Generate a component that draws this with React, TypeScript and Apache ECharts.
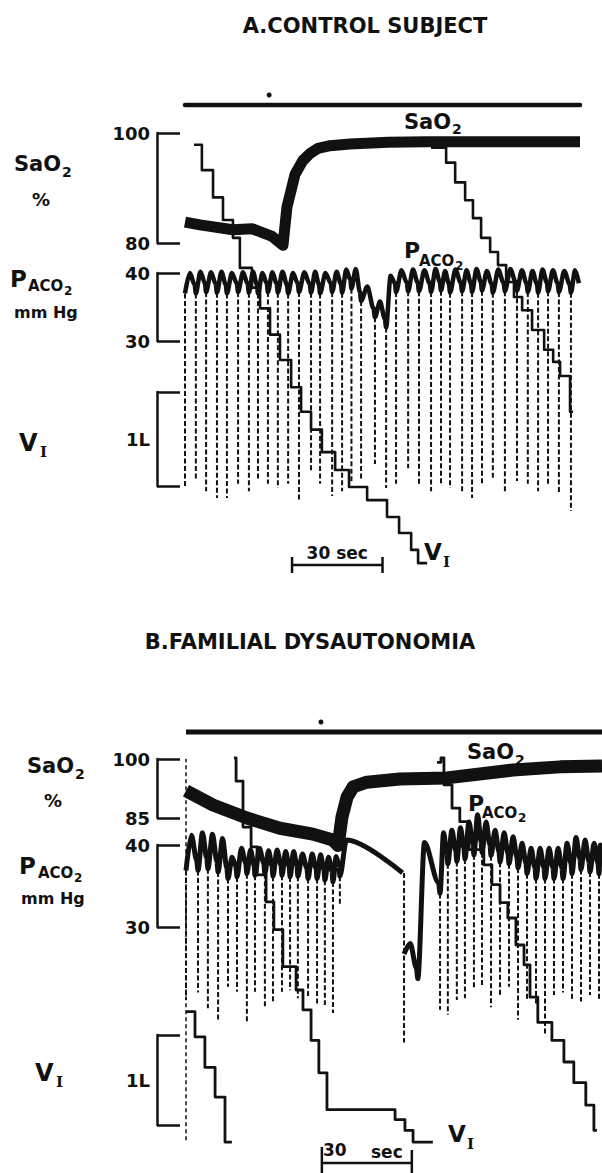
import React, { useEffect, useRef } from "react";
import * as echarts from "echarts";

const INK = "#111";
const FONT = '"DejaVu Sans", sans-serif';
const SERIF = '"DejaVu Serif", serif';

// ---------------- Panel A: control subject ----------------
const aTimeMax = 131; // seconds shown
const aEvent = [0, 131];
const aEventMark = 27.9;
const aScaleBar = [35.5, 30]; // start (s), length (s)

// SaO2 (%)
const aSaoT = [0, 5.0, 15.9, 22.2, 28.9, 32.5, 33.8, 36.5, 39.1, 41.5, 44.1, 48.1, 54.7, 67.3, 80.3, 131];
const aSaoV = [83.8, 83.3, 82.4, 82.6, 81.2, 79.6, 86.5, 92.5, 95.0, 96.3, 97.2, 97.7, 98.0, 98.3, 98.4, 98.4];

// PACO2 (mmHg): one entry per breath
const aBreathT = [0, 3.6, 7.0, 10.6, 13.9, 17.6, 21.2, 24.2, 27.5, 30.8, 34.2, 37.8, 41.8, 44.8, 48.8, 52.1, 55.2, 58.4, 63.0, 66.7, 70.0, 74.0, 77.6, 81.6, 84.9, 87.9, 91.9, 95.2, 98.5, 102.1, 106.1, 110.1, 113.7, 117.1, 120.4, 124.0, 128.0];
const aPeak = [40.0, 40.2, 40.1, 40.2, 40.0, 40.1, 40.2, 40.0, 40.1, 40.2, 40.0, 40.1, 40.2, 40.0, 40.2, 40.5, 40.6, 38.0, 35.8, 39.6, 40.4, 40.5, 40.4, 40.6, 40.3, 40.5, 40.4, 40.6, 40.3, 40.5, 40.6, 40.4, 40.3, 40.5, 40.4, 40.3, 40.4];
const aTail = [38.3, 38.5, 38.4, 38.3, 38.5, 38.4, 38.3, 38.5, 38.4, 38.3, 38.5, 38.4, 38.3, 38.5, 38.4, 39.0, 37.2, 34.8, 33.3, 38.5, 38.6, 38.6, 38.5, 38.7, 38.4, 38.6, 38.5, 38.7, 38.4, 38.6, 38.7, 38.5, 38.4, 38.6, 38.5, 38.4, 38.5];
const aFloor = [8.4, 9.4, 7.9, 6.9, 6.9, 9.0, 7.9, 9.4, 9.0, 8.4, 9.0, 6.4, 10.9, 9.0, 7.2, 7.9, 9.0, 9.4, 11.9, 8.4, 9.0, 11.3, 9.0, 7.9, 9.0, 8.4, 7.9, 6.9, 9.0, 9.9, 7.9, 9.4, 9.0, 7.9, 9.0, 7.5, 5.0];

// VI spirometer volume (L): step times and level after each step
const aVi1T = [3.0, 5.6, 9.3, 12.6, 15.9, 18.2, 22.2, 24.9, 28.2, 31.5, 35.2, 38.5, 41.8, 45.4, 49.8, 54.4, 60.4, 67.0, 71.0, 75.0, 77.3];
const aVi1V = [5.63, 5.36, 5.07, 4.83, 4.64, 4.32, 4.11, 3.89, 3.61, 3.34, 3.05, 2.79, 2.60, 2.36, 2.17, 1.99, 1.85, 1.67, 1.50, 1.32, 1.18];
const aVi1End = 80.3;
const aVi2T = [81.6, 86.6, 89.6, 92.9, 95.5, 98.2, 101.2, 103.8, 106.5, 109.1, 111.8, 115.1, 119.1, 122.1, 124.4, 127.7];
const aVi2V = [5.60, 5.44, 5.23, 5.04, 4.85, 4.64, 4.49, 4.35, 4.17, 4.01, 3.87, 3.66, 3.45, 3.32, 3.17, 2.79];
const aVi2End = 128.7;

// ---------------- Panel B: familial dysautonomia ----------------
const bTimeMax = 138.7;
const bEvent = [0, 138.7];
const bEventMark = 45.0;
const bScaleBar = [45.3, 30];

const bSaoT = [0, 9.0, 20.3, 31.3, 42.3, 49.0, 50.7, 52.0, 53.7, 55.7, 60.3, 71.3, 87.0, 109.0, 124.7, 138.7];
const bSaoV = [91.9, 88.3, 85.0, 82.4, 80.9, 79.4, 78.0, 85.2, 90.3, 92.9, 94.1, 94.9, 95.2, 97.2, 98.0, 98.2];

const bBreathT = [0, 4.0, 7.3, 10.7, 14.0, 17.0, 20.3, 23.0, 26.3, 29.0, 32.0, 34.7, 37.3, 40.7, 43.7, 46.3, 49.0, 51.3, 72.7, 77.3, 84.7, 87.3, 90.3, 93.0, 96.0, 98.7, 101.7, 104.7, 107.7, 110.7, 113.7, 116.7, 119.7, 122.7, 125.7, 128.7, 131.7, 134.7, 137.7];
const bPeak = [41.2, 41.5, 41.3, 40.8, 38.5, 39.6, 39.4, 39.6, 39.3, 39.4, 39.2, 39.2, 38.9, 38.9, 38.8, 38.5, 38.6, 40.6, 28.0, 40.3, 41.5, 41.8, 42.1, 42.8, 43.7, 42.8, 41.8, 41.5, 41.0, 40.2, 39.6, 39.6, 39.6, 39.6, 40.2, 40.9, 40.6, 40.2, 40.0];
const bTail = [38.2, 38.4, 38.0, 37.2, 37.4, 37.8, 37.6, 37.8, 37.5, 37.6, 37.4, 37.5, 37.2, 37.2, 37.0, 36.8, 37.5, 36.6, 25.0, 35.4, 39.0, 39.3, 39.6, 40.1, 40.4, 40.0, 39.2, 39.0, 38.5, 37.8, 37.2, 37.2, 37.2, 37.2, 37.8, 38.3, 38.0, 37.8, 37.5];
const bFloor = [21.1, 22.0, 20.1, 18.7, 22.7, 22.1, 18.4, 22.1, 20.1, 20.9, 22.1, 22.3, 21.3, 21.5, 20.5, 20.5, 19.5, 32.7, 15.9, 24.4, 19.9, 19.3, 21.1, 21.3, 22.6, 22.9, 20.2, 21.7, 22.7, 18.7, 21.1, 20.5, 16.8, 21.7, 22.0, 21.1, 20.9, 21.7, 21.1];

const bVi1T = [0, 3.0, 6.3, 9.7, 13.0];
const bVi1V = [3.26, 2.98, 2.64, 2.31, 1.81];
const bVi1End = 15.3;
const bVi2T = [16.0, 16.7, 19.0, 21.7, 23.7, 26.7, 29.3, 32.3, 36.7, 39.0, 41.7, 44.3, 47.0, 69.7, 73.0, 75.7];
const bVi2V = [6.08, 5.82, 5.31, 5.09, 4.78, 4.48, 4.17, 3.76, 3.50, 3.28, 2.94, 2.58, 2.17, 2.06, 1.94, 1.81];
const bVi2End = 82.3;
const bVi3T = [83.7, 85.0, 86.0, 88.7, 91.3, 94.3, 99.3, 102.0, 104.7, 107.3, 110.0, 112.7, 114.7, 117.3, 122.0, 126.0, 129.3, 133.3, 136.0];
const bVi3V = [6.03, 6.08, 5.78, 5.52, 5.37, 5.06, 4.89, 4.67, 4.47, 4.30, 4.00, 3.78, 3.42, 3.14, 2.94, 2.70, 2.47, 2.22, 1.94];
const bVi3End = 137.0;
const bResetT = 0;
const bResetV = [1.83, 6.07];

// ---------------- builders ----------------
function stairs(times: number[], levels: number[], end: number) {
  const pts: number[][] = [[times[0], levels[0]]];
  for (let i = 1; i < times.length; i++) {
    pts.push([times[i], levels[i - 1]]);
    pts.push([times[i], levels[i]]);
  }
  pts.push([end, levels[levels.length - 1]]);
  return pts;
}

function capnogram(times: number[], peaks: number[], tails: number[], floors: number[], end: number) {
  const line: any[] = [];
  const spikes: number[][] = [];
  for (let i = 0; i < times.length; i++) {
    const t0 = times[i];
    const t1 = i + 1 < times.length ? times[i + 1] : end;
    const d = t1 - t0;
    const prev = i > 0 ? tails[i - 1] : tails[i];
    const notch = Math.min(prev, peaks[i]) - 1.3;
    let top = notch;
    if (prev - notch > 5) {
      // pen falls fast: leave the fall to the dashed stroke
      line.push([t0, "-"]);
      top = prev;
    }
    line.push([t0, notch]);
    line.push([t0 + Math.min(0.45 * d, 2.2), peaks[i]]);
    line.push([t1 - Math.min(0.12 * d, 0.5), tails[i]]);
    spikes.push([t0, top, floors[i]]);
  }
  return { line, spikes };
}

function zip(t: number[], v: number[]) {
  return t.map((x, i) => [x, v[i]]);
}

function traceLine(idx: number, data: any[], width: number, extra: any = {}) {
  return {
    type: "line",
    xAxisIndex: idx,
    yAxisIndex: idx,
    data,
    symbol: "none",
    showSymbol: false,
    clip: false,
    silent: true,
    connectNulls: false,
    lineStyle: { color: INK, width, cap: "butt", join: "round", ...(extra.lineStyle || {}) },
    smooth: extra.smooth || false,
    smoothMonotone: extra.smooth ? "x" : undefined,
    z: extra.z || 2,
  };
}

function spikeSeries(idx: number, data: number[][]) {
  return {
    type: "custom",
    xAxisIndex: idx,
    yAxisIndex: idx,
    data,
    clip: false,
    silent: true,
    z: 1,
    renderItem: (_p: any, api: any) => {
      const a = api.coord([api.value(0), api.value(1)]);
      const b = api.coord([api.value(0), api.value(2)]);
      return {
        type: "line",
        shape: { x1: a[0], y1: a[1], x2: b[0], y2: b[1] },
        style: { stroke: INK, lineWidth: 2, lineDash: [5, 2.5], fill: null },
      };
    },
  };
}

function bracketAxis(grid: number, offset: number, min: number, max: number, ticks: number[], labels: number[], fmt?: (v: number) => string) {
  const axisLabel: any = {
    show: true,
    customValues: labels,
    margin: 7,
    color: INK,
    fontSize: 18,
    fontWeight: "bold",
    fontFamily: FONT,
  };
  if (fmt) axisLabel.formatter = fmt;
  return {
    type: "value",
    gridIndex: grid,
    min,
    max,
    position: "left",
    offset,
    axisLine: { show: true, onZero: false, lineStyle: { color: INK, width: 2.5 } },
    axisTick: { show: true, inside: true, length: 23, customValues: ticks, lineStyle: { color: INK, width: 2.5 } },
    axisLabel,
    splitLine: { show: false },
  };
}

function txt(x: number, y: number, text: string, size: number, opts: any = {}) {
  return {
    type: "text",
    x,
    y,
    silent: true,
    style: {
      text,
      fill: INK,
      fontSize: size,
      fontWeight: "bold",
      fontFamily: opts.family || FONT,
      align: opts.align || "left",
      verticalAlign: "middle",
    },
  };
}

function hline(x1: number, x2: number, y: number, w: number, cap = "butt") {
  return { type: "line", silent: true, shape: { x1, y1: y, x2, y2: y }, style: { stroke: INK, lineWidth: w, lineCap: cap } };
}
function vline(x: number, y1: number, y2: number, w: number) {
  return { type: "line", silent: true, shape: { x1: x, y1, x2: x, y2 }, style: { stroke: INK, lineWidth: w } };
}

export default function App() {
  const ref = useRef<HTMLDivElement>(null);

  useEffect(() => {
    if (!ref.current) return;
    const chart = echarts.init(ref.current, undefined, { renderer: "svg" });

    const capA = capnogram(aBreathT, aPeak, aTail, aFloor, aTimeMax);
    const capB = capnogram(bBreathT, bPeak, bTail, bFloor, bTimeMax);

    const grids = [
      { left: 185, width: 395, top: 133, height: 110 },
      { left: 185, width: 395, top: 273, height: 68 },
      { left: 185, width: 395, top: 392, height: 94 },
      { left: 186, width: 416, top: 759, height: 59 },
      { left: 186, width: 416, top: 845, height: 82 },
      { left: 186, width: 416, top: 1035, height: 90 },
    ];
    const xAxes = grids.map((_, i) => ({
      type: "value",
      gridIndex: i,
      min: 0,
      max: i < 3 ? aTimeMax : bTimeMax,
      show: false,
    }));
    const oneL = () => "1L";
    const yAxes = [
      bracketAxis(0, 28, 80, 100, [80, 100], [80, 100]),
      bracketAxis(1, 28, 30, 40, [30, 40], [30, 40]),
      bracketAxis(2, 28, 2, 3, [2, 3], [2.5], oneL),
      bracketAxis(3, 29, 85, 100, [85, 100], [85, 100]),
      bracketAxis(4, 29, 30, 40, [30, 40], [30, 40]),
      bracketAxis(5, 29, 2, 3, [2, 3], [2.5], oneL),
    ];

    const series: any[] = [
      traceLine(0, zip(aSaoT, aSaoV), 11, { z: 1 }),
      spikeSeries(1, capA.spikes),
      traceLine(1, capA.line, 4.5, { smooth: 0.3 }),
      traceLine(2, stairs(aVi1T, aVi1V, aVi1End), 2.6, { z: 3 }),
      traceLine(2, stairs(aVi2T, aVi2V, aVi2End), 2.6, { z: 3 }),
      traceLine(3, zip(bSaoT, bSaoV), 13, { z: 1 }),
      spikeSeries(4, capB.spikes),
      traceLine(4, capB.line, 5, { smooth: 0.3 }),
      traceLine(5, stairs(bVi1T, bVi1V, bVi1End), 2.8, { z: 3 }),
      traceLine(5, stairs(bVi2T, bVi2V, bVi2End), 2.8, { z: 3 }),
      traceLine(5, stairs(bVi3T, bVi3V, bVi3End), 2.8, { z: 3 }),
      traceLine(5, [[bResetT, bResetV[0]], [bResetT, bResetV[1]]], 1.5, { lineStyle: { type: [4, 3] } }),
    ];

    chart.setOption({
      animation: false,
      backgroundColor: "#fff",
      grid: grids,
      xAxis: xAxes,
      yAxis: yAxes,
      series,
    });

    const px = (axis: number, v: number) => chart.convertToPixel({ xAxisIndex: axis }, v) as number;

    const aBar0 = px(0, aEvent[0]);
    const aBar1 = px(0, aEvent[1]);
    const bBar0 = px(3, bEvent[0]);
    const bBar1 = px(3, bEvent[1]);
    const aS0 = px(2, aScaleBar[0]);
    const aS1 = px(2, aScaleBar[0] + aScaleBar[1]);
    const bS0 = px(5, bScaleBar[0]);
    const bS1 = px(5, bScaleBar[0] + bScaleBar[1]);

    const graphic: any[] = [
      // Panel A
      txt(365, 26, "A.CONTROL SUBJECT", 21, { align: "center" }),
      hline(aBar0, aBar1, 105, 4.5, "round"),
      { type: "circle", silent: true, shape: { cx: px(0, aEventMark), cy: 95, r: 2.5 }, style: { fill: INK } },
      txt(14, 164, "SaO", 21),
      txt(62, 172, "2", 14),
      txt(32, 199, "%", 18),
      txt(10, 279, "P", 23),
      txt(28, 286, "ACO", 15),
      txt(64, 291, "2", 12),
      txt(14, 312, "mm Hg", 16),
      txt(19, 443, "V", 24),
      txt(40, 452, "I", 15, { family: SERIF }),
      txt(404, 122, "SaO", 21),
      txt(452, 129, "2", 14),
      txt(404, 250, "P", 22),
      txt(419, 261, "ACO", 15),
      txt(455, 266, "2", 12),
      txt(424, 552, "V", 23),
      txt(443, 562, "I", 15, { family: SERIF }),
      txt((aS0 + aS1) / 2, 553, "30 sec", 17, { align: "center" }),
      hline(aS0, aS1, 565, 2.5),
      vline(aS0, 557, 573, 2.5),
      vline(aS1, 557, 573, 2.5),
      // Panel B
      txt(310, 642, "B.FAMILIAL DYSAUTONOMIA", 21, { align: "center" }),
      hline(bBar0, bBar1, 732, 5, "butt"),
      { type: "circle", silent: true, shape: { cx: px(3, bEventMark), cy: 722, r: 2.5 }, style: { fill: INK } },
      txt(27, 766, "SaO", 21),
      txt(75, 774, "2", 14),
      txt(44, 800, "%", 18),
      txt(19, 866, "P", 23),
      txt(38, 873, "ACO", 15),
      txt(74, 878, "2", 12),
      txt(21, 898, "mm Hg", 16),
      txt(35, 1073, "V", 24),
      txt(56, 1082, "I", 15, { family: SERIF }),
      txt(467, 752, "SaO", 21),
      txt(515, 760, "2", 14),
      txt(468, 803, "P", 22),
      txt(482, 813, "ACO", 15),
      txt(518, 818, "2", 12),
      txt(448, 1134, "V", 23),
      txt(467, 1144, "I", 15, { family: SERIF }),
      txt(bS0 + 13, 1150, "30", 17, { align: "center" }),
      txt(bS1 - 25, 1152, "sec", 17, { align: "center" }),
      hline(bS0, bS1, 1163, 2.5),
      vline(bS0, 1147, 1173, 2.5),
      vline(bS1, 1150, 1173, 2.5),
    ];

    chart.setOption({ graphic });

    return () => {
      chart.dispose();
    };
  }, []);

  return (
    <div
      ref={ref}
      style={{ position: "absolute", left: 0, top: 0, width: 602, height: 1173, background: "#fff" }}
    />
  );
}
